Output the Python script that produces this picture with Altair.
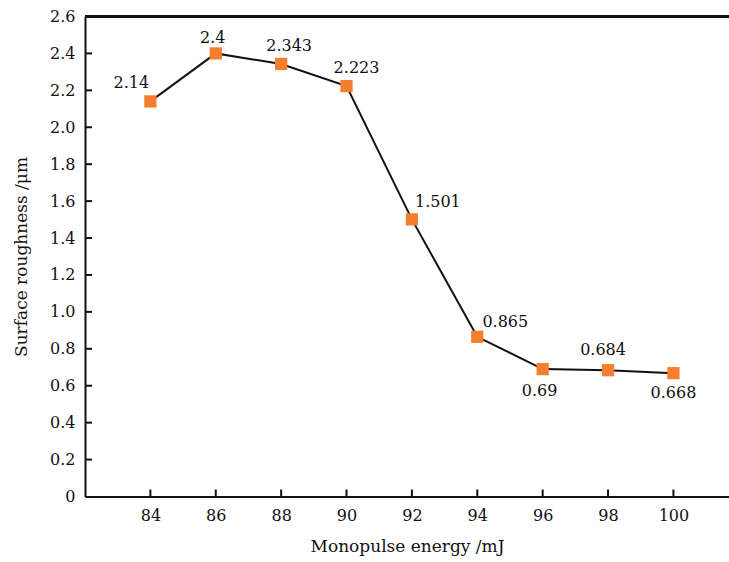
import altair as alt
import pandas as pd

energy = [84, 86, 88, 90, 92, 94, 96, 98, 100]
roughness = [2.14, 2.4, 2.343, 2.223, 1.501, 0.865, 0.69, 0.684, 0.668]
point_labels = ["2.14", "2.4", "2.343", "2.223", "1.501", "0.865", "0.69", "0.684", "0.668"]
label_dx = [-19, -3, 8, 10, 26, 28, -3, -5, 0]
label_dy = [-18, -15, -18, -18, -17, -15, 22, -20, 20]
x_ticks = [84, 86, 88, 90, 92, 94, 96, 98, 100]
y_ticks = [0, 0.2, 0.4, 0.6, 0.8, 1.0, 1.2, 1.4, 1.6, 1.8, 2.0, 2.2, 2.4, 2.6]
y_inner_ticks = [0.2, 0.4, 0.6, 0.8, 1.0, 1.2, 1.4, 1.6, 1.8, 2.0, 2.2, 2.4]

FONT = "DejaVu Serif"

df = pd.DataFrame({
    "energy": energy,
    "roughness": roughness,
    "label": point_labels,
})
xt = pd.DataFrame({"energy": x_ticks})
yt = pd.DataFrame({"roughness": y_inner_ticks})

xscale = alt.Scale(domain=[82, 101.7], nice=False, zero=False)
yscale = alt.Scale(domain=[0, 2.6], nice=False)

X = alt.X(
    "energy:Q",
    scale=xscale,
    axis=alt.Axis(
        values=x_ticks,
        title="Monopulse energy /mJ",
        ticks=False,
        grid=False,
        labelPadding=11,
        titlePadding=15,
    ),
)
Y = alt.Y(
    "roughness:Q",
    scale=yscale,
    axis=alt.Axis(
        values=y_ticks,
        title="Surface roughness /μm",
        ticks=False,
        grid=False,
        labelPadding=10,
        titlePadding=19,
        labelExpr="datum.value == 0 ? '0' : format(datum.value, '.1f')",
    ),
)

base = alt.Chart(df)

line = base.mark_line(color="#111111", strokeWidth=2).encode(x=X, y=Y)
points = base.mark_point(shape="square", filled=True, size=150, color="#F47F2F", opacity=1).encode(x=X, y=Y)

text_layers = []
for i, lab in enumerate(point_labels):
    text_layers.append(
        base.transform_filter(alt.datum.label == lab)
        .mark_text(
            font=FONT, fontSize=16, color="#111111", align="center", baseline="middle",
            dx=label_dx[i], dy=label_dy[i],
        )
        .encode(x=X, y=Y, text="label:N")
    )

xticks = alt.Chart(xt).mark_rule(color="#111111", strokeWidth=2).encode(
    x=X, y=alt.value(480), y2=alt.value(473)
)
yticks = alt.Chart(yt).mark_rule(color="#111111", strokeWidth=2).encode(
    y=Y, x=alt.value(0), x2=alt.value(7)
)
topline = alt.Chart(df).mark_rule(color="#111111", strokeWidth=2).encode(
    y=alt.value(0), x=alt.value(0), x2=alt.value(644)
)

chart = (
    alt.layer(xticks, yticks, topline, line, points, *text_layers)
    .properties(
        width=644,
        height=480,
        autosize=alt.AutoSizeParams(type="none"),
        padding={"left": 85, "top": 16.5, "right": 0, "bottom": 65.5},
        background="white",
    )
    .configure_view(stroke=None)
    .configure_axis(
        domainColor="#111111",
        domainWidth=2,
        labelFont=FONT,
        labelFontSize=16,
        labelColor="#111111",
        titleFont=FONT,
        titleFontSize=17,
        titleFontWeight="normal",
        titleColor="#111111",
    )
)

chart.save("out.html", embed_options={"renderer": "svg", "actions": False})
